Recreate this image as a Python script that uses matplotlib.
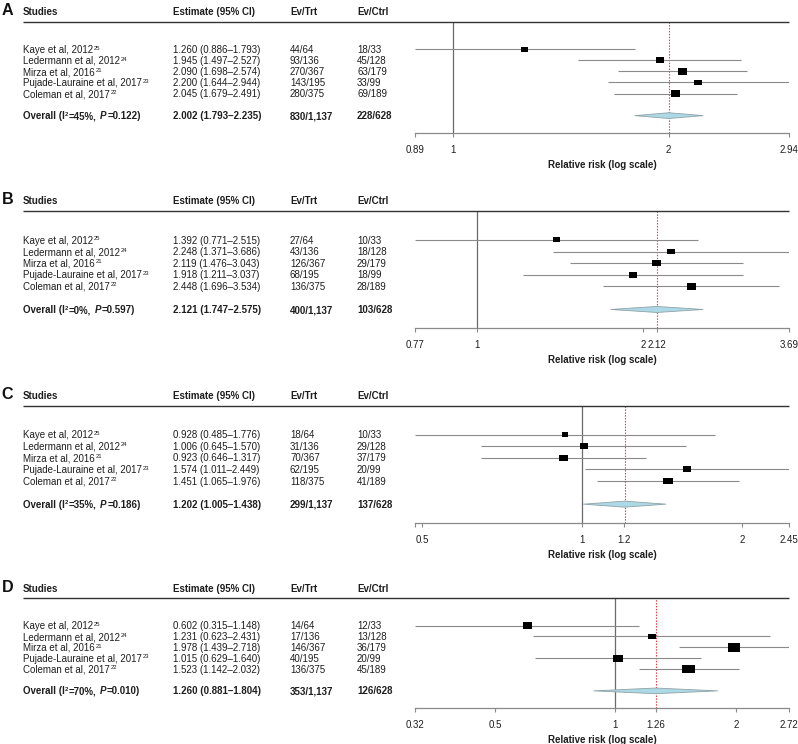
import numpy as np
import matplotlib
matplotlib.use("Agg")
import matplotlib.pyplot as plt
import matplotlib.transforms as mtransforms
from matplotlib.ticker import FixedLocator, FixedFormatter, NullLocator

plt.rcParams['font.family'] = ['Liberation Sans', 'DejaVu Sans']

# ---------------- data ----------------
studies = ["Kaye et al, 2012", "Ledermann et al, 2012", "Mirza et al, 2016",
           "Pujade-Lauraine et al, 2017", "Coleman et al, 2017"]
refs = ["25", "24", "21", "23", "22"]
n_trt = [64, 136, 367, 195, 375]
n_ctrl = [33, 128, 179, 99, 189]

# Panel A
est_A = [1.260, 1.945, 2.090, 2.200, 2.045]
lo_A = [0.886, 1.497, 1.698, 1.644, 1.679]
hi_A = [1.793, 2.527, 2.574, 2.944, 2.491]
evt_A = [44, 93, 270, 143, 280]
evc_A = [18, 45, 63, 33, 69]
wt_A = [6.7, 8.3, 9.0, 8.3, 9.0]
overall_A = [2.002, 1.793, 2.235]
i2_A, p_A = 45, "0.122"
ticks_A = [0.886, 1, 2, 2.944]
tlab_A = ["0.89", "1", "2", "2.94"]

# Panel B
est_B = [1.392, 2.248, 2.119, 1.918, 2.448]
lo_B = [0.771, 1.371, 1.476, 1.211, 1.696]
hi_B = [2.515, 3.686, 3.043, 3.037, 3.534]
evt_B = [27, 43, 126, 68, 136]
evc_B = [10, 18, 29, 18, 28]
wt_B = [7.0, 7.7, 9.3, 8.3, 9.0]
overall_B = [2.121, 1.747, 2.575]
i2_B, p_B = 0, "0.597"
ticks_B = [0.771, 1, 2, 2.12, 3.686]
tlab_B = ["0.77", "1", "2", "2.12", "3.69"]

# Panel C
est_C = [0.928, 1.006, 0.923, 1.574, 1.451]
lo_C = [0.485, 0.645, 0.646, 1.011, 1.065]
hi_C = [1.776, 1.570, 1.317, 2.449, 1.976]
evt_C = [18, 31, 70, 62, 118]
evc_C = [10, 29, 37, 20, 41]
wt_C = [6.7, 8.0, 8.7, 8.3, 9.7]
overall_C = [1.202, 1.005, 1.438]
i2_C, p_C = 35, "0.186"
ticks_C = [0.485, 0.5, 1, 1.2, 2, 2.449]
tlab_C = ["", "0.5", "1", "1.2", "2", "2.45"]

# Panel D
est_D = [0.602, 1.231, 1.978, 1.015, 1.523]
lo_D = [0.315, 0.623, 1.439, 0.629, 1.142]
hi_D = [1.148, 2.431, 2.718, 1.640, 2.032]
evt_D = [14, 17, 146, 40, 136]
evc_D = [12, 13, 36, 20, 45]
wt_D = [8.7, 8.0, 12.0, 10.0, 12.3]
overall_D = [1.260, 0.881, 1.804]
i2_D, p_D = 70, "0.010"
ticks_D = [0.315, 0.5, 1, 1.26, 2, 2.718]
tlab_D = ["0.32", "0.5", "1", "1.26", "2", "2.72"]

panels = [
    ("A", est_A, lo_A, hi_A, evt_A, evc_A, wt_A, overall_A, i2_A, p_A, ticks_A, tlab_A),
    ("B", est_B, lo_B, hi_B, evt_B, evc_B, wt_B, overall_B, i2_B, p_B, ticks_B, tlab_B),
    ("C", est_C, lo_C, hi_C, evt_C, evc_C, wt_C, overall_C, i2_C, p_C, ticks_C, tlab_C),
    ("D", est_D, lo_D, hi_D, evt_D, evc_D, wt_D, overall_D, i2_D, p_D, ticks_D, tlab_D),
]

# ---------------- layout ----------------
W, H, DPI = 798, 744, 100
top_px = [21.7, 211.0, 405.7, 598.3]
axis_px = [133.3, 328.0, 522.7, 708.3]
X_PLOT0, X_PLOT1 = 415, 789
X_NAME, X_EST, X_TRT, X_CTRL = 23, 173, 290, 357
FS = 7.0
SUPFS = 4.2
BASE_SHIFT = -3.6   # dots, row centre -> baseline
SUP_RISE = 3.4      # dots
TXT = '#1e1e1e'

fig = plt.figure(figsize=(W / DPI, H / DPI), dpi=DPI)
renderer = fig.canvas.get_renderer()

rect_marker = [(-1.4, -1), (1.4, -1), (1.4, 1), (-1.4, 1), (-1.4, -1)]


def rich(ax, x_px, y, segs):
    """segs: list of (text, kwargs, is_super, gap_after_px)"""
    blend = mtransforms.blended_transform_factory(fig.transFigure, ax.transData)
    dx = 0.0
    for s, kw, sup, gap in segs:
        rise = BASE_SHIFT + (SUP_RISE if sup else 0.0)
        tr = mtransforms.offset_copy(blend, fig=fig, x=dx, y=rise, units='dots')
        t = ax.text(x_px / W, y, s, transform=tr, va='baseline', ha='left',
                    color=TXT, clip_on=False,
                    fontsize=(SUPFS if sup else FS), **kw)
        dx += t.get_window_extent(renderer).width + gap


space_px = 0.278 * FS * DPI / 72.0

for i, (letter, est, lo, hi, evt, evc, wt, ov, i2, pval, ticks, tlab) in enumerate(panels):
    top, bot = top_px[i], axis_px[i]
    ax = fig.add_axes([X_PLOT0 / W, 1 - bot / H, (X_PLOT1 - X_PLOT0) / W, (bot - top) / H])
    ax.set_xscale('log')
    ax.set_xlim(ticks[0], ticks[-1])
    ax.set_ylim(8.6, -1.5)
    rows = np.arange(1, len(est) + 1)
    ov_row = 7

    ax.axvline(1, color='#6a6a6a', lw=0.9, zorder=1)
    ax.axvline(ov[0], color='#d64545', lw=0.8, ls=(0, (1.3, 1.3)), zorder=1)
    ax.hlines(rows, lo, hi, color='#8a8a8a', lw=0.8, zorder=2)
    ax.scatter(est, rows, s=(np.array(wt) * 0.72) ** 2, marker=rect_marker,
               color='black', linewidths=0, zorder=3)
    ax.fill([ov[1], ov[0], ov[2], ov[0]], [ov_row, ov_row - 0.26, ov_row, ov_row + 0.26],
            facecolor='#add8e6', edgecolor='#8fa3a8', lw=0.6, zorder=3)

    for s in ['left', 'top', 'right']:
        ax.spines[s].set_visible(False)
    ax.spines['bottom'].set_color('#8a8a8a')
    ax.spines['bottom'].set_linewidth(0.9)
    ax.set_yticks([])
    ax.xaxis.set_major_locator(FixedLocator(ticks))
    ax.xaxis.set_major_formatter(FixedFormatter(tlab))
    ax.xaxis.set_minor_locator(NullLocator())
    ax.tick_params(axis='x', length=3, width=0.8, color='#8a8a8a', pad=5.5,
                   labelsize=FS, labelcolor=TXT)
    ax.annotate("Relative risk (log scale)", xy=(0.5, 0), xycoords='axes fraction',
                xytext=(0, -32), textcoords='offset pixels', ha='center', va='center',
                fontsize=FS, fontweight='bold', color=TXT)

    blend = mtransforms.blended_transform_factory(fig.transFigure, ax.transData)
    tr = mtransforms.offset_copy(blend, fig=fig, x=0, y=BASE_SHIFT, units='dots')

    # header line
    ax.plot([X_NAME / W, X_PLOT1 / W], [-1.5, -1.5], transform=blend, color='#333333',
            lw=1.0, clip_on=False, solid_capstyle='butt')

    # header
    hy = -2.43
    ax.text(1.5 / W, hy, letter, transform=tr, fontsize=11.6, fontweight='bold',
            va='baseline', ha='left', color='#111111')
    for x, t in [(X_NAME, "Studies"), (X_EST, "Estimate (95% CI)"),
                 (X_TRT, "Ev/Trt"), (X_CTRL, "Ev/Ctrl")]:
        ax.text(x / W, hy, t, transform=tr, fontsize=FS, fontweight='bold',
                va='baseline', ha='left', color=TXT)

    # study rows
    for r, name, ref, e, l, h, et, ec, nt, nc in zip(rows, studies, refs, est, lo, hi,
                                                    evt, evc, n_trt, n_ctrl):
        rich(ax, X_NAME, r, [(name, {}, False, 0.8), (ref, {}, True, 0)])
        kw = dict(transform=tr, fontsize=FS, va='baseline', ha='left', color=TXT)
        ax.text(X_EST / W, r, f"{e:.3f} ({l:.3f}\u2013{h:.3f})", **kw)
        ax.text(X_TRT / W, r, f"{et}/{nt:,}", **kw)
        ax.text(X_CTRL / W, r, f"{ec}/{nc:,}", **kw)

    # overall row
    b = {'fontweight': 'bold'}
    rich(ax, X_NAME, ov_row, [("Overall (I", b, False, 0.5),
                              ("2", b, True, 0.4),
                              ("=" + f"{i2}" + "%,", b, False, space_px + 0.5),
                              ("P", {'fontweight': 'bold', 'fontstyle': 'italic'}, False, 0.8),
                              ("=" + pval + ")", b, False, 0)])
    kwb = dict(transform=tr, fontsize=FS, va='baseline', ha='left', color=TXT,
               fontweight='bold')
    ax.text(X_EST / W, ov_row, f"{ov[0]:.3f} ({ov[1]:.3f}\u2013{ov[2]:.3f})", **kwb)
    ax.text(X_TRT / W, ov_row, f"{sum(evt)}/{sum(n_trt):,}", **kwb)
    ax.text(X_CTRL / W, ov_row, f"{sum(evc)}/{sum(n_ctrl):,}", **kwb)

fig.savefig("out.png", dpi=DPI, facecolor='white')
